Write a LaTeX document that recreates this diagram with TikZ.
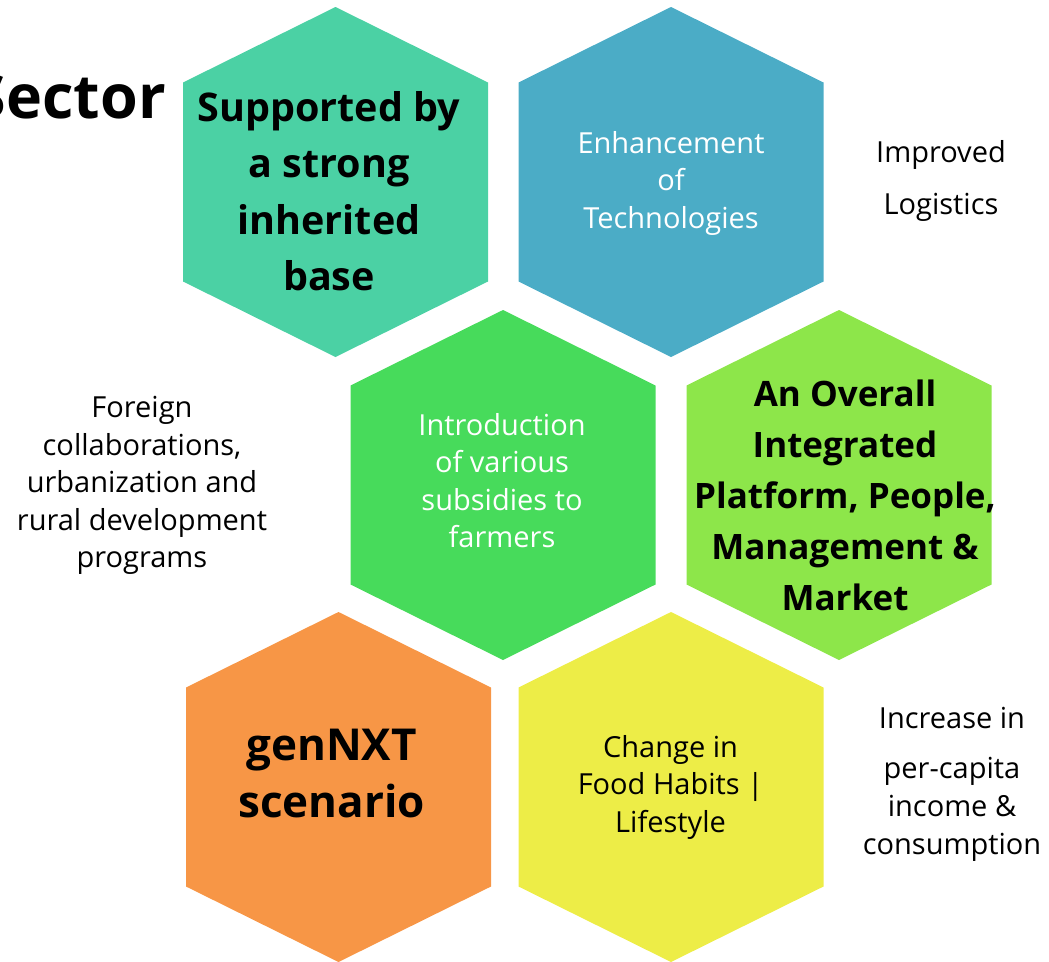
\documentclass[tikz,border=0pt]{standalone}
\usepackage{fontspec}
\setmainfont{Open Sans}
\definecolor{hteal}{HTML}{4BD1A4}
\definecolor{hblue}{HTML}{4BACC6}
\definecolor{hgreen}{HTML}{47DB5B}
\definecolor{hlime}{HTML}{8DE64A}
\definecolor{horange}{HTML}{F79646}
\definecolor{hyellow}{HTML}{EDED47}
\newcommand\hexcell[3]{%
  \fill[#3] (#1,#2) ++(0,-175) -- ++(152.5,75.5) -- ++(0,199) -- ++(-152.5,75.5)
    -- ++(-152.5,-75.5) -- ++(0,-199) -- cycle;}
\tikzset{
  reg/.style={align=center, inner sep=0pt, font=\fontsize{29}{37.5}\selectfont},
  boldtxt/.style={align=center, inner sep=0pt, font=\bfseries\fontsize{39.5}{56.5}\selectfont},
}
\begin{document}
\begin{tikzpicture}[x=1pt,y=-1pt]
\useasboundingbox (0,0) rectangle (1049,961);
\hexcell{335.5}{182}{hteal}
\hexcell{671}{182}{hblue}
\hexcell{503}{485}{hgreen}
\hexcell{839}{485}{hlime}
\hexcell{338.5}{787}{horange}
\hexcell{671}{787}{hyellow}

\node[anchor=base east, inner sep=0pt, font=\bfseries\fontsize{61}{72}\selectfont] (sector) at (166,118) {Sector};

\node[boldtxt] (t1) at (329,191) {Supported by\\a strong\\inherited\\base};
\node[reg, text=white] (t2) at (671,183) {Enhancement\\of\\Technologies};
\node[reg, font=\fontsize{29}{51.5}\selectfont] (t3) at (941,181) {Improved\\Logistics};
\node[reg] (t4) at (142,485.5) {Foreign\\collaborations,\\urbanization and\\rural development\\programs};
\node[reg, text=white] (t5) at (502,480.5) {Introduction\\of various\\subsidies to\\farmers};
\node[boldtxt, font=\bfseries\fontsize{35}{51}\selectfont] (t6) at (845,495) {An Overall\\Integrated\\Platform, People,\\Management \&\\Market};
\node[boldtxt, font=\bfseries\fontsize{44}{57}\selectfont] (t7) at (331.5,773) {genNXT\\scenario};
\node[reg] (t8) at (670.5,787) {Change in\\Food Habits |\\Lifestyle};
\node[reg, font=\fontsize{29}{38}\selectfont] (t9) at (952,784) {Increase in\\[12pt]per-capita\\income \&\\consumption};
\end{tikzpicture}
\end{document}
